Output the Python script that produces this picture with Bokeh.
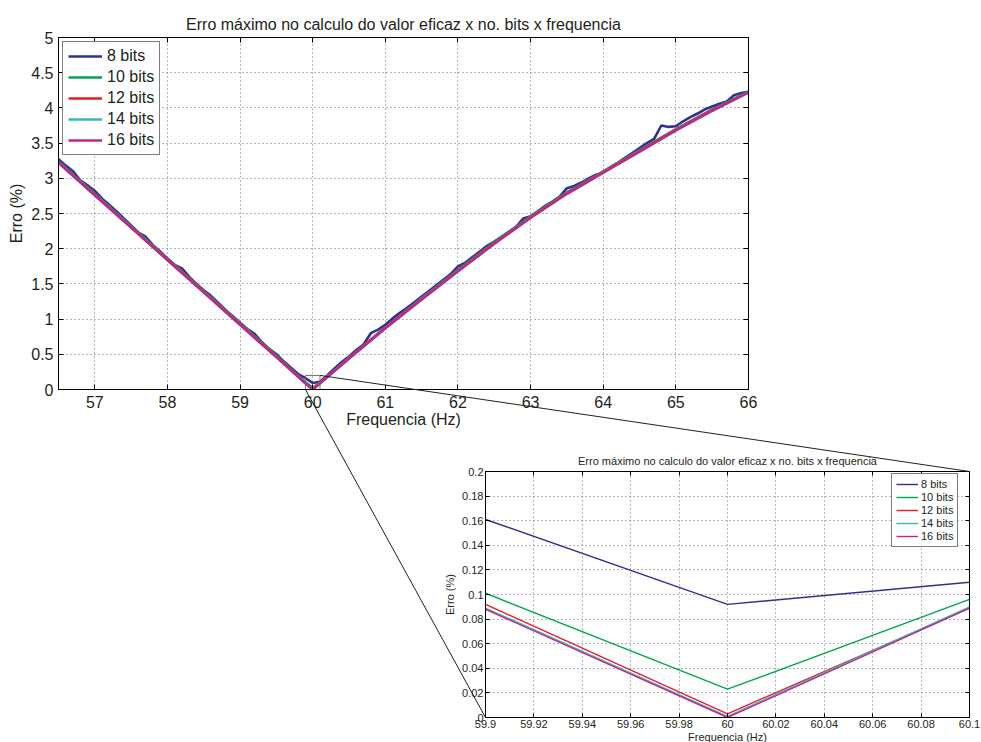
from bokeh.plotting import figure
from bokeh.models import (Range1d, LinearAxis, Legend, LegendItem,
                          CustomJSTickFormatter, GlobalInlineStyleSheet)
from bokeh.embed import file_html
from bokeh.resources import INLINE

FONT = "Liberation Sans"
TXT = "#231f20"

title_text = "Erro máximo no calculo do valor eficaz x no. bits x frequencia"
x_label = "Frequencia (Hz)"
y_label = "Erro (%)"
series_labels = ["8 bits", "10 bits", "12 bits", "14 bits", "16 bits"]
colors = ["#2E3192", "#00A651", "#ED1C24", "#2CBFBF", "#C2248F"]

# 8 bits: sampled every 0.1 Hz
freq_8 = [56.5, 56.6, 56.7, 56.8, 56.9, 57.0, 57.1, 57.2, 57.3, 57.4, 57.5, 57.6,
          57.7, 57.8, 57.9, 58.0, 58.1, 58.2, 58.3, 58.4, 58.5, 58.6, 58.7, 58.8,
          58.9, 59.0, 59.1, 59.2, 59.3, 59.4, 59.5, 59.6, 59.7, 59.8, 59.9, 60.0,
          60.1, 60.2, 60.3, 60.4, 60.5, 60.6, 60.7, 60.8, 60.9, 61.0, 61.1, 61.2,
          61.3, 61.4, 61.5, 61.6, 61.7, 61.8, 61.9, 62.0, 62.1, 62.2, 62.3, 62.4,
          62.5, 62.6, 62.7, 62.8, 62.9, 63.0, 63.1, 63.2, 63.3, 63.4, 63.5, 63.6,
          63.7, 63.8, 63.9, 64.0, 64.1, 64.2, 64.3, 64.4, 64.5, 64.6, 64.7, 64.8,
          64.9, 65.0, 65.1, 65.2, 65.3, 65.4, 65.5, 65.6, 65.7, 65.8, 65.9, 66.0]
err_8 = [3.27, 3.18, 3.10, 2.97, 2.90, 2.82, 2.71, 2.62, 2.53, 2.43, 2.33, 2.23,
         2.17, 2.05, 1.96, 1.86, 1.77, 1.72, 1.60, 1.50, 1.41, 1.33, 1.23, 1.13,
         1.04, 0.95, 0.86, 0.79, 0.67, 0.58, 0.50, 0.40, 0.31, 0.22, 0.161, 0.092,
         0.110, 0.20, 0.30, 0.39, 0.47, 0.56, 0.64, 0.80, 0.85, 0.92, 1.01, 1.09,
         1.16, 1.24, 1.32, 1.40, 1.48, 1.56, 1.64, 1.75, 1.80, 1.88, 1.96, 2.04,
         2.10, 2.17, 2.24, 2.31, 2.43, 2.46, 2.53, 2.61, 2.67, 2.74, 2.86, 2.89,
         2.94, 3.00, 3.05, 3.08, 3.16, 3.22, 3.29, 3.36, 3.43, 3.50, 3.56, 3.75,
         3.73, 3.74, 3.81, 3.87, 3.92, 3.98, 4.02, 4.06, 4.09, 4.18, 4.21, 4.23]

# 10..16 bits: smooth curves, read at these frequencies
freq_c = [56.5, 57.0, 57.5, 58.0, 58.5, 59.0, 59.5, 59.9, 60.0, 60.1, 60.5,
          61.0, 61.5, 62.0, 62.5, 63.0, 63.5, 64.0, 64.5, 65.0, 65.5, 66.0]
err_10 = [3.24, 2.78, 2.32, 1.86, 1.40, 0.94, 0.48, 0.101, 0.023, 0.096, 0.45,
          0.88, 1.30, 1.70, 2.09, 2.46, 2.80, 3.10, 3.40, 3.70, 3.98, 4.23]
err_12 = [3.23, 2.77, 2.31, 1.85, 1.39, 0.93, 0.47, 0.092, 0.003, 0.089, 0.45,
          0.88, 1.29, 1.69, 2.08, 2.45, 2.79, 3.09, 3.39, 3.69, 3.97, 4.22]
err_14 = [3.22, 2.76, 2.30, 1.84, 1.38, 0.92, 0.46, 0.089, 0.001, 0.090, 0.44,
          0.87, 1.28, 1.68, 2.07, 2.44, 2.78, 3.08, 3.38, 3.68, 3.96, 4.22]
err_16 = [3.22, 2.76, 2.30, 1.84, 1.38, 0.92, 0.46, 0.088, 0.000, 0.089, 0.44,
          0.87, 1.28, 1.68, 2.07, 2.44, 2.78, 3.08, 3.38, 3.68, 3.96, 4.22]

series = [(freq_8, err_8), (freq_c, err_10), (freq_c, err_12),
          (freq_c, err_14), (freq_c, err_16)]

main_x_range = (56.5, 66.0)
main_y_range = (0.0, 5.0)
main_xticks = [57, 58, 59, 60, 61, 62, 63, 64, 65, 66]
main_yticks = [0, 0.5, 1, 1.5, 2, 2.5, 3, 3.5, 4, 4.5, 5]
zoom_x_range = (59.9, 60.1)
zoom_y_range = (0.0, 0.2)
zoom_xticks = [59.9, 59.92, 59.94, 59.96, 59.98, 60.0, 60.02, 60.04, 60.06, 60.08, 60.1]
zoom_yticks = [0, 0.02, 0.04, 0.06, 0.08, 0.1, 0.12, 0.14, 0.16, 0.18, 0.2]

# ---- page geometry (pixels) ----
PAGE_W, PAGE_H = 981, 742
M_X0, M_Y0, M_W, M_H = 58, 37, 690, 352          # main plot frame on the page
M_BL, M_BT, M_BR, M_BB = 60, 45, 14, 48          # main figure borders
Z_X0, Z_Y0, Z_W, Z_H = 485, 471, 484, 246        # inset frame on the page
Z_BL, Z_BT, Z_BR, Z_BB = 50, 29, 12, 30          # inset figure borders


def fmt():
    return CustomJSTickFormatter(code="return String(Math.round(tick * 1000) / 1000);")


def style(fig, xticks, yticks, tick_size, lab_size, tick_len, lab_standoff,
          xl_standoff, yl_standoff):
    fig.xaxis.ticker = xticks
    fig.yaxis.ticker = yticks
    fig.xaxis.formatter = fmt()
    fig.yaxis.formatter = fmt()
    for ax in fig.xaxis + fig.yaxis:
        ax.major_tick_in = tick_len
        ax.major_tick_out = 0
        ax.minor_tick_line_color = None
        ax.axis_line_color = "black"
        ax.major_tick_line_color = "black"
        ax.major_label_text_font = FONT
        ax.major_label_text_font_size = tick_size
        ax.major_label_text_color = TXT
        ax.major_label_standoff = lab_standoff
        ax.axis_label_text_font = FONT
        ax.axis_label_text_font_size = lab_size
        ax.axis_label_text_font_style = "normal"
        ax.axis_label_text_color = TXT
    fig.xaxis.axis_label_standoff = xl_standoff
    fig.yaxis.axis_label_standoff = yl_standoff
    # mirrored tick marks on top and right (MATLAB "box on"), no labels
    for loc, ticks in (("right", yticks), ("above", xticks)):
        ax = LinearAxis(ticker=ticks, major_tick_in=tick_len, major_tick_out=0,
                        minor_tick_line_color=None, major_label_text_font_size="1px",
                        major_label_text_color=None, major_label_text_alpha=0,
                        major_label_standoff=0, axis_line_color="black")
        fig.add_layout(ax, loc)
    for g in (fig.xgrid, fig.ygrid):
        g.grid_line_color = "#6d6e71"
        g.grid_line_dash = "1 3"
        g.grid_line_width = 1
    fig.outline_line_color = "black"
    fig.title.text_font = FONT
    fig.title.text_font_style = "normal"
    fig.title.text_color = TXT
    fig.title.align = "center"


def to_page(x, y, xr, yr, x0, y0, w, h):
    return (x0 + (x - xr[0]) / (xr[1] - xr[0]) * w,
            y0 + (yr[1] - y) / (yr[1] - yr[0]) * h)


def place(fig, left, top, width, height, z):
    fig.styles = {"position": "absolute", "left": f"{left}px", "top": f"{top}px",
                  "width": f"{width}px", "height": f"{height}px", "z-index": str(z)}


# ---------------- overlay (connector lines, transparent, on top) ----------------
ov = figure(frame_width=PAGE_W, frame_height=PAGE_H, title=None,
            x_range=Range1d(0, PAGE_W), y_range=Range1d(PAGE_H, 0),
            x_axis_type=None, y_axis_type=None, min_border=0,
            min_border_left=0, min_border_right=0, min_border_top=0, min_border_bottom=0,
            output_backend="svg", toolbar_location=None,
            outline_line_color=None, background_fill_alpha=0, border_fill_alpha=0)
a_main = to_page(zoom_x_range[1], zoom_y_range[1], main_x_range, main_y_range, M_X0, M_Y0, M_W, M_H)
a_zoom = to_page(zoom_x_range[1], zoom_y_range[1], zoom_x_range, zoom_y_range, Z_X0, Z_Y0, Z_W, Z_H)
b_main = to_page(zoom_x_range[0], zoom_y_range[0], main_x_range, main_y_range, M_X0, M_Y0, M_W, M_H)
b_zoom = to_page(zoom_x_range[0], zoom_y_range[0], zoom_x_range, zoom_y_range, Z_X0, Z_Y0, Z_W, Z_H)
ov.segment(x0=[a_main[0], b_main[0]], y0=[a_main[1], b_main[1]],
           x1=[a_zoom[0], b_zoom[0]], y1=[a_zoom[1], b_zoom[1]],
           line_color=TXT, line_width=1)

# ---------------- main figure ----------------
p = figure(frame_width=M_W, frame_height=M_H,
           x_range=Range1d(*main_x_range), y_range=Range1d(*main_y_range),
           min_border_left=M_BL, min_border_top=M_BT,
           min_border_right=M_BR, min_border_bottom=M_BB,
           title=title_text, x_axis_label=x_label, y_axis_label=y_label,
           output_backend="svg", toolbar_location=None,
           border_fill_alpha=0, background_fill_color="white")
style(p, main_xticks, main_yticks, "16px", "16px", 5, 6, 0, 3)
p.yaxis.major_label_standoff = 5
p.title.text_font_size = "16px"

rs = []
for (fx, fy), c in zip(series, colors):
    rs.append(p.line(fx, fy, line_color=c, line_width=2.6))

p.quad(left=[zoom_x_range[0]], right=[zoom_x_range[1]],
       bottom=[zoom_y_range[0]], top=[zoom_y_range[1]],
       fill_alpha=0, line_color="#6d6e71", line_width=1)

leg = Legend(items=[LegendItem(label=l, renderers=[r]) for l, r in zip(series_labels, rs)],
             location="top_left", margin=4, padding=5, spacing=3,
             glyph_width=34, glyph_height=18, label_height=18, label_standoff=5,
             label_text_font=FONT, label_text_font_size="16px", label_text_color=TXT,
             border_line_color="black", border_line_width=1.2,
             background_fill_color="white", background_fill_alpha=1)
p.add_layout(leg)

# ---------------- inset figure ----------------
q = figure(frame_width=Z_W, frame_height=Z_H,
           x_range=Range1d(*zoom_x_range), y_range=Range1d(*zoom_y_range),
           min_border_left=Z_BL, min_border_top=Z_BT,
           min_border_right=Z_BR, min_border_bottom=Z_BB,
           title=title_text, x_axis_label=x_label, y_axis_label=y_label,
           output_backend="svg", toolbar_location=None,
           border_fill_alpha=0, background_fill_color="white")
style(q, zoom_xticks, zoom_yticks, "11px", "11px", 4, 2, 0, 3)
q.title.text_font_size = "11px"

qs = []
for (fx, fy), c in zip(series, colors):
    qs.append(q.line(fx, fy, line_color=c, line_width=1.4))

qleg = Legend(items=[LegendItem(label=l, renderers=[r]) for l, r in zip(series_labels, qs)],
              location=(406, 170), margin=0, padding=4, spacing=1,
              glyph_width=22, glyph_height=12, label_height=12, label_standoff=3,
              label_text_font=FONT, label_text_font_size="11px", label_text_color=TXT,
              border_line_color="black", border_line_width=1.2,
              background_fill_color="white", background_fill_alpha=1)
q.add_layout(qleg)

# independent roots, absolutely placed: main and inset underneath, connectors on top
place(p, M_X0 - M_BL, M_Y0 - M_BT, M_BL + M_W + M_BR, M_BT + M_H + M_BB, 1)
place(q, Z_X0 - Z_BL, Z_Y0 - Z_BT, Z_BL + Z_W + Z_BR, Z_BT + Z_H + Z_BB, 2)
place(ov, 0, 0, PAGE_W, PAGE_H, 5)
ov.styles["pointer-events"] = "none"
ov.stylesheets = [GlobalInlineStyleSheet(
    css="html, body { margin: 0 !important; padding: 0; overflow: hidden; background: white; }")]

open("out.html", "w").write(file_html([ov, p, q], INLINE))
